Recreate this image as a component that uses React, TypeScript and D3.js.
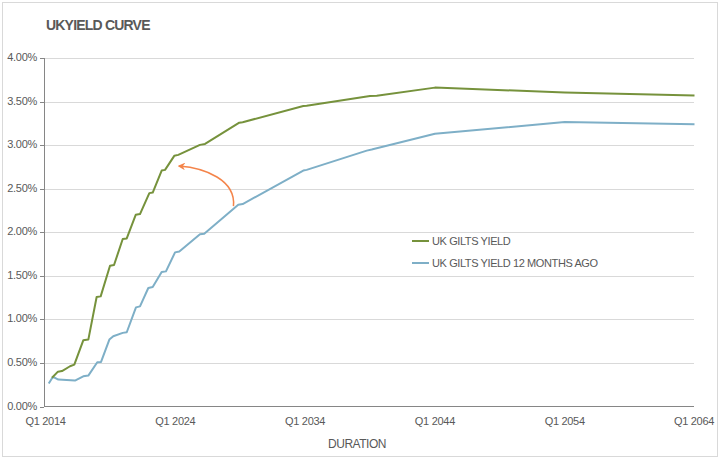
import React from "react";
import * as d3 from "d3";

// years since Q1 2014, yield in %
const currentYears = [0.5, 0.96, 1.27, 1.89, 2.22, 2.91, 3.3, 3.94, 4.25, 4.97, 5.28, 5.95, 6.26, 6.95, 7.28, 8.0, 8.26, 8.95, 9.21, 9.92, 10.23, 11.9, 12.29, 14.93, 15.19, 19.86, 20.12, 25.0, 25.52, 30, 40, 50];
const currentYield = [0.33, 0.40, 0.407, 0.462, 0.481, 0.76, 0.768, 1.257, 1.264, 1.616, 1.624, 1.922, 1.929, 2.2, 2.209, 2.449, 2.456, 2.708, 2.716, 2.877, 2.888, 3.003, 3.014, 3.258, 3.263, 3.45, 3.453, 3.564, 3.568, 3.66, 3.605, 3.57];

const agoYears = [0.25, 0.55, 0.73, 0.99, 2.27, 2.91, 3.3, 3.99, 4.28, 4.92, 5.22, 5.95, 6.26, 6.97, 7.28, 7.92, 8.26, 8.95, 9.28, 9.98, 10.31, 11.9, 12.23, 14.85, 15.19, 19.86, 20.12, 24.75, 25.13, 30, 40, 50];
const agoYield = [0.264, 0.336, 0.329, 0.309, 0.298, 0.347, 0.355, 0.508, 0.512, 0.768, 0.806, 0.845, 0.852, 1.138, 1.149, 1.36, 1.372, 1.544, 1.551, 1.769, 1.78, 1.977, 1.983, 2.315, 2.323, 2.708, 2.716, 2.937, 2.949, 3.13, 3.265, 3.24];

const xTickYears = [0, 10, 20, 30, 40, 50];
const xTickLabels = ["Q1 2014", "Q1 2024", "Q1 2034", "Q1 2044", "Q1 2054", "Q1 2064"];
const yTicks = [0, 0.5, 1, 1.5, 2, 2.5, 3, 3.5, 4];

const seriesNames = ["UK GILTS YIELD", "UK GILTS YIELD  12 MONTHS AGO"];
const seriesColors = ["#76923C", "#7EAFC7"];

// annotation arrow (cubic curve control points, in data units)
const arrowYears = [14.48, 14.68, 12.29, 10.29];
const arrowYield = [2.3, 2.6, 2.738, 2.76];

export default function App() {
  const W = 723, H = 460;
  const x = d3.scaleLinear().domain([0, 50]).range([45.5, 694.5]);
  const y = d3.scaleLinear().domain([0, 4]).range([406.5, 58]);
  const line = d3.line<[number, number]>().x(d => x(d[0])).y(d => y(d[1]));
  const cur: [number, number][] = currentYears.map((t, i) => [t, currentYield[i]]);
  const ago: [number, number][] = agoYears.map((t, i) => [t, agoYield[i]]);
  const ap = arrowYears.map((t, i) => [x(t), y(arrowYield[i])]);
  const arrowD = `M${ap[0][0]},${ap[0][1]} C${ap[1][0]},${ap[1][1]} ${ap[2][0]},${ap[2][1]} ${ap[3][0]},${ap[3][1]}`;
  const font = "'Liberation Sans', Arial, sans-serif";
  const txt = "#595959";

  return (
    <svg width={W} height={H} style={{ position: "absolute", left: 0, top: 0, background: "#fff" }} fontFamily={font}>
      <defs>
        <marker id="ah" viewBox="0 0 10 10" refX="8" refY="5" markerWidth="5" markerHeight="5" orient="auto">
          <path d="M0,0 L10,5 L0,10 L3,5 Z" fill="#F4844A" />
        </marker>
      </defs>
      <rect x={2.5} y={2.5} width={715} height={454} fill="#fff" stroke="#d9d9d9" />
      <text x={46} y={30} fontSize={14} fontWeight="bold" fill={txt} letterSpacing={-0.8}>UKYIELD CURVE</text>
      {yTicks.map(v => (
        <g key={v}>
          {v > 0 && <line x1={44} x2={694} y1={Math.round(y(v)) + 0.5} y2={Math.round(y(v)) + 0.5} stroke="#d9d9d9" />}
          <line x1={40} x2={44} y1={Math.round(y(v)) + 0.5} y2={Math.round(y(v)) + 0.5} stroke="#868686" />
          <text x={37} y={y(v) + 3} fontSize={11} fill={txt} textAnchor="end" letterSpacing={-0.3}>{v.toFixed(2) + "%"}</text>
        </g>
      ))}
      <line x1={44.5} x2={44.5} y1={58} y2={407} stroke="#868686" />
      <line x1={44} x2={694} y1={406.5} y2={406.5} stroke="#868686" />
      {xTickYears.map((t, i) => (
        <text key={t} x={i === xTickYears.length - 1 ? Math.min(x(t), 694) : x(t)} y={425} fontSize={11} fill={txt} textAnchor="middle" letterSpacing={-0.3}>{xTickLabels[i]}</text>
      ))}
      <text x={357} y={448} fontSize={12} fill={txt} textAnchor="middle" letterSpacing={-0.5}>DURATION</text>
      <path d={line(ago) || ""} fill="none" stroke={seriesColors[1]} strokeWidth={2} strokeLinejoin="round" />
      <path d={line(cur) || ""} fill="none" stroke={seriesColors[0]} strokeWidth={2} strokeLinejoin="round" />
      <path d={arrowD} fill="none" stroke="#F4844A" strokeWidth={1.5} markerEnd="url(#ah)" />
      {seriesNames.map((n, i) => (
        <g key={n}>
          <line x1={412} x2={429} y1={241 + i * 22} y2={241 + i * 22} stroke={seriesColors[i]} strokeWidth={2} />
          <text x={432} y={245 + i * 22} fontSize={11} fill={txt} letterSpacing={-0.4}>{n}</text>
        </g>
      ))}
    </svg>
  );
}
